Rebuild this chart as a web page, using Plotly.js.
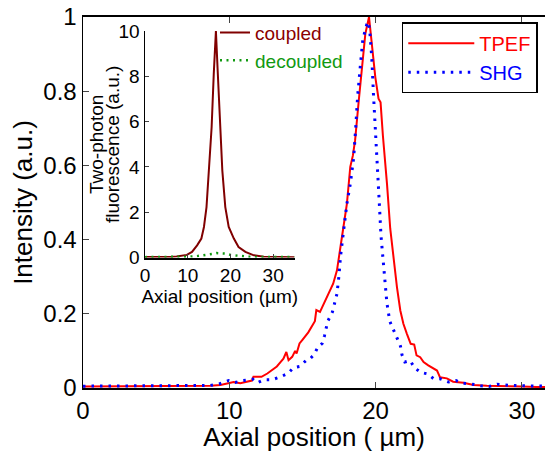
<!DOCTYPE html>
<html>
<head>
<meta charset="utf-8">
<script src="https://cdn.plot.ly/plotly-3.0.1.min.js"></script>
<style>html,body{margin:0;padding:0;background:#fff}</style>
</head>
<body>
<div id="chart" style="width:545px;height:452px"></div>
<script>
// Main panel: TPEF (red solid)
const tpefX = [0,1,2,3,4,5,6,7,8,8.7,9.4,9.95,10.3,10.75,11.2,11.55,11.65,12.2,12.6,12.9,13.25,13.5,13.7,13.9,14.05,14.3,14.5,14.6,14.8,15.0,15.4,15.85,15.95,16.2,16.5,16.9,17.1,17.36,17.5,17.7,18.04,18.27,18.45,18.6,18.85,19.07,19.3,19.55,19.75,19.98,20.2,20.34,20.5,20.68,20.78,21.0,21.23,21.46,21.69,21.9,22.14,22.4,22.64,22.8,23.05,23.28,23.6,23.97,24.2,24.3,24.4,24.87,25.3,26.0,26.7,27.6,28.5,29.2,30,31,31.6];
const tpefY = [0.004,0.004,0.005,0.004,0.004,0.005,0.004,0.005,0.005,0.006,0.008,0.012,0.016,0.013,0.018,0.02,0.03,0.03,0.039,0.048,0.058,0.07,0.079,0.097,0.075,0.084,0.10,0.093,0.12,0.13,0.15,0.18,0.21,0.205,0.23,0.266,0.281,0.317,0.36,0.407,0.497,0.596,0.627,0.668,0.775,0.874,0.955,1.0,0.928,0.838,0.78,0.77,0.68,0.60,0.55,0.43,0.344,0.272,0.209,0.173,0.146,0.119,0.117,0.088,0.083,0.07,0.061,0.052,0.047,0.038,0.029,0.026,0.017,0.014,0.008,0.006,0.005,0.003,0.004,0.003,0.003];
// Main panel: SHG (blue dotted)
const shgX = [0,1,2,3,4,5,6,7,8,8.7,9.3,9.96,10.4,10.9,11.35,11.6,11.9,12.35,12.9,13.5,14.0,14.4,14.8,15.3,15.55,15.8,16.05,16.35,16.5,16.73,17.05,17.2,17.36,17.5,17.6,17.8,18.04,18.27,18.5,18.64,18.77,18.95,19.13,19.4,19.5,19.6,19.74,19.85,19.97,20.07,20.23,20.37,20.5,20.66,20.77,20.97,21.2,21.45,21.7,21.8,22.0,22.35,22.7,23.1,23.55,23.97,24.4,25.0,25.5,25.96,26.5,27.2,27.75,28.3,29.1,30,31,31.6];
const shgY = [0.005,0.005,0.005,0.005,0.005,0.005,0.006,0.006,0.007,0.007,0.011,0.02,0.015,0.02,0.022,0.024,0.014,0.022,0.022,0.03,0.039,0.055,0.058,0.076,0.08,0.09,0.11,0.12,0.14,0.18,0.205,0.227,0.254,0.304,0.354,0.42,0.497,0.55,0.62,0.70,0.785,0.865,0.94,0.98,0.987,0.963,0.89,0.795,0.70,0.606,0.516,0.41,0.345,0.281,0.23,0.18,0.158,0.137,0.113,0.09,0.07,0.074,0.053,0.042,0.038,0.025,0.025,0.016,0.02,0.013,0.011,0.006,0.004,0.01,0.007,0.006,0.005,0.005];
// Inset: coupled (dark red solid)
const coupledX = [0,2,4,6,7.4,8.5,9.8,11.0,12.2,13.2,13.8,14.4,15.0,15.6,16.1,16.6,17.0,17.5,18.1,18.8,19.6,20.8,21.9,23.5,25.5,27.8,30,32,35];
const coupledY = [0.03,0.02,0.04,0.03,0.05,0.08,0.12,0.25,0.54,0.84,1.35,2.23,3.85,5.76,8.12,10.0,8.3,6.0,3.85,2.23,1.35,0.84,0.47,0.25,0.1,0.04,0.03,0.02,0.02];
// Inset: decoupled (green dotted)
const decoupledX = [0,4,8,10,12,14,15,16,16.7,17.5,18.8,20,22,24,26,30,35];
const decoupledY = [0.02,0.02,0.03,0.04,0.06,0.1,0.13,0.17,0.2,0.2,0.18,0.12,0.07,0.04,0.03,0.02,0.02];

const mainXTicks = [0,10,20,30];
const mainYTicks = [0,0.2,0.4,0.6,0.8,1];
const mainYLabels = ['0','0.2','0.4','0.6','0.8','1'];
const insetXTicks = [0,10,20,30];
const insetYTicks = [0,2,4,6,8,10];
const insetYTitle = ['Two-photon', 'fluorescence (a.u.)'];

const FONT = 'Liberation Sans, Arial, sans-serif';

const traces = [
  {x: tpefX, y: tpefY, type: 'scatter', mode: 'lines', name: '<span style="color:#ff0000">TPEF</span>',
   line: {color: '#ff0000', width: 2}, xaxis: 'x', yaxis: 'y', legend: 'legend'},
  {x: shgX, y: shgY, type: 'scatter', mode: 'lines', name: '<span style="color:#0000ff">SHG</span>',
   line: {color: '#0000ff', width: 3, dash: '2.5px,6px'}, xaxis: 'x', yaxis: 'y', legend: 'legend'},
  {x: coupledX, y: coupledY, type: 'scatter', mode: 'lines', name: '<span style="color:#8b0000">coupled</span>',
   line: {color: '#800000', width: 2}, xaxis: 'x2', yaxis: 'y2', legend: 'legend2'},
  {x: decoupledX, y: decoupledY, type: 'scatter', mode: 'lines', name: '<span style="color:#119911">decoupled</span>',
   line: {color: '#119911', width: 2.5, dash: '2px,4.5px'}, xaxis: 'x2', yaxis: 'y2', legend: 'legend2'}
];

const layout = {
  width: 545, height: 452,
  margin: {l: 83, r: 0, t: 17, b: 64, autoexpand: false},
  paper_bgcolor: '#ffffff', plot_bgcolor: '#ffffff',
  font: {family: FONT, color: '#000'},
  showlegend: true,
  xaxis: {
    domain: [0, 1], range: [0, 31.58], tickvals: mainXTicks,
    showline: true, linecolor: '#000', linewidth: 2, mirror: 'ticks',
    ticks: 'inside', ticklen: 6, tickcolor: '#444', tickwidth: 1,
    showgrid: false, zeroline: false,
    tickfont: {size: 24, family: FONT},
    title: {text: 'Axial position ( µm)', font: {size: 26, family: FONT}, standoff: 4}
  },
  yaxis: {
    domain: [0, 1], range: [0, 1], tickvals: mainYTicks, ticktext: mainYLabels,
    showline: true, linecolor: '#000', linewidth: 1.5, mirror: false,
    ticks: 'inside', ticklen: 6, tickcolor: '#444', tickwidth: 1,
    showgrid: false, zeroline: false,
    tickfont: {size: 24, family: FONT},
    title: {text: 'Intensity (a.u.)', font: {size: 26, family: FONT}, standoff: 3}
  },
  xaxis2: {
    domain: [0.1342, 0.4578], anchor: 'y2', range: [0, 35], tickvals: insetXTicks,
    showline: true, linecolor: '#000', linewidth: 2,
    ticks: 'inside', ticklen: 4, tickcolor: '#444', tickwidth: 1,
    showgrid: false, zeroline: false,
    tickfont: {size: 19, family: FONT},
    title: {text: 'Axial position (µm)', font: {size: 19, family: FONT}, standoff: 0}
  },
  yaxis2: {
    domain: [0.3515, 0.9623], anchor: 'x2', range: [0, 10], tickvals: insetYTicks,
    showline: true, linecolor: '#000', linewidth: 1.5,
    ticks: 'inside', ticklen: 4, tickcolor: '#444', tickwidth: 1,
    showgrid: false, zeroline: false,
    tickfont: {size: 19, family: FONT}
  },
  annotations: [
    {text: insetYTitle[0], xref: 'paper', yref: 'paper', x: 0.0303, y: 0.6577,
     xanchor: 'center', yanchor: 'middle', textangle: -90, showarrow: false,
     font: {size: 19, family: FONT, color: '#000'}},
    {text: insetYTitle[1], xref: 'paper', yref: 'paper', x: 0.0649, y: 0.6577,
     xanchor: 'center', yanchor: 'middle', textangle: -90, showarrow: false,
     font: {size: 19, family: FONT, color: '#000'}}
  ],
  legend: {
    x: 0.69, y: 0.9857, xanchor: 'left', yanchor: 'top',
    bordercolor: '#000', borderwidth: 1.5, bgcolor: '#fff',
    font: {size: 20, family: FONT}, itemwidth: 66
  },
  legend2: {
    x: 0.2857, y: 1.009, xanchor: 'left', yanchor: 'top',
    borderwidth: 0, bgcolor: 'rgba(0,0,0,0)',
    font: {size: 19, family: FONT}
  }
};

Plotly.newPlot('chart', traces, layout, {displayModeBar: false, staticPlot: true});
</script>
</body>
</html>
